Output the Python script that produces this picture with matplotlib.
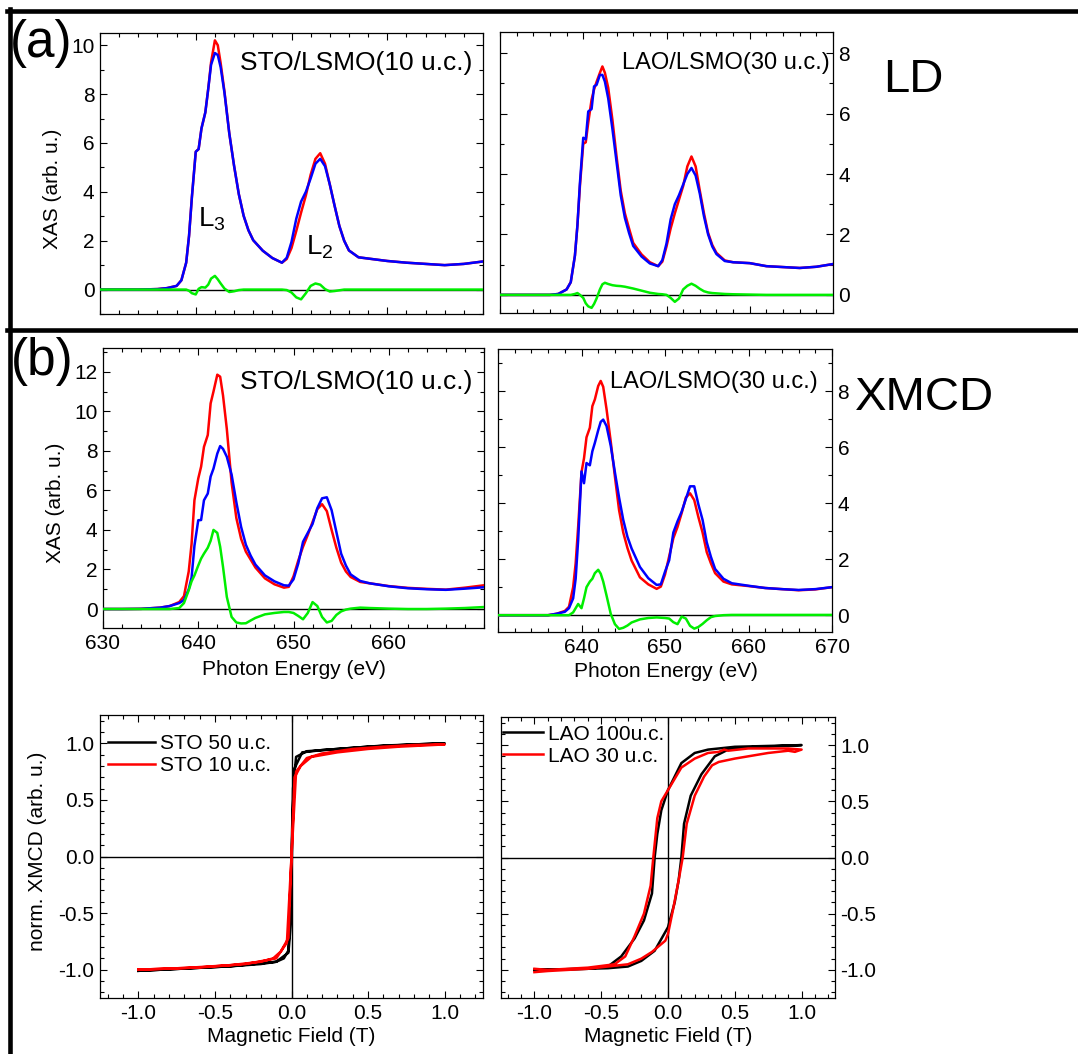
import matplotlib
matplotlib.use("Agg")
import matplotlib.pyplot as plt
from matplotlib.ticker import MultipleLocator
from matplotlib.lines import Line2D

plt.rcParams['font.family'] = ['Liberation Sans', 'DejaVu Sans']
plt.rcParams['mathtext.default'] = 'regular'

# energy grid (eV) shared by all XAS panels
energy = [630, 632, 634, 636, 637, 638, 638.5, 639, 639.3, 639.6, 640, 640.3, 640.6, 641,
          641.3, 641.6, 642, 642.3, 642.6, 643, 643.5, 644, 644.5, 645, 645.5, 646, 647,
          648, 649, 649.5, 650, 650.5, 651, 651.5, 652, 652.5, 653, 653.5, 654, 654.5,
          655, 655.5, 656, 657, 658, 660, 662, 664, 666, 668, 670]

# (a) LD, STO/LSMO(10 u.c.)
ld_sto_red = [0, 0, 0, 0.02, 0.06, 0.15, 0.38, 1.1, 2.2, 3.8, 5.64, 5.75, 6.6, 7.25,
              8.2, 9.3, 10.2, 10.0, 9.27, 8.1, 6.4, 5.07, 3.9, 3.02, 2.43, 2.02, 1.59,
              1.29, 1.1, 1.25, 1.7, 2.4, 3.15, 3.85, 4.7, 5.35, 5.58, 5.15, 4.3, 3.43,
              2.6, 2.0, 1.6, 1.32, 1.27, 1.17, 1.1, 1.05, 1.0, 1.05, 1.15]
ld_sto_blue = [0, 0, 0, 0.02, 0.06, 0.15, 0.38, 1.1, 2.2, 3.8, 5.64, 5.75, 6.6, 7.25,
               8.2, 9.2, 9.68, 9.6, 9.1, 8.05, 6.4, 5.07, 3.9, 3.02, 2.43, 2.02, 1.59,
               1.29, 1.1, 1.3, 1.95, 2.9, 3.6, 4.0, 4.55, 5.15, 5.35, 5.05, 4.3, 3.43,
               2.6, 2.0, 1.6, 1.32, 1.27, 1.17, 1.1, 1.05, 1.0, 1.05, 1.15]
ld_sto_diff = [0, 0, 0, 0, 0, 0, 0, 0, -0.05, -0.15, -0.2, 0.03, 0.1, 0.08,
               0.2, 0.45, 0.56, 0.42, 0.25, 0.04, -0.1, -0.07, -0.02, 0, 0, 0, 0,
               0, 0, -0.02, -0.12, -0.32, -0.4, -0.15, 0.15, 0.25, 0.2, 0.02, -0.08, -0.06,
               -0.03, 0, 0, 0, 0, 0, 0, 0, 0, 0, 0]

# (a) LD, LAO/LSMO(30 u.c.)
ld_lao_red = [0, 0, 0, 0, 0.03, 0.18, 0.42, 1.3, 2.3, 3.6, 5.0, 5.05, 5.7, 6.46,
              6.8, 7.05, 7.35, 7.56, 7.35, 6.85, 5.8, 4.58, 3.45, 2.7, 2.2, 1.72, 1.34,
              1.08, 0.95, 1.1, 1.6, 2.2, 2.7, 3.15, 3.6, 4.25, 4.58, 4.25, 3.45, 2.7,
              2.05, 1.65, 1.39, 1.14, 1.08, 1.05, 0.95, 0.92, 0.89, 0.93, 1.02]
ld_lao_blue = [0, 0, 0, 0, 0.03, 0.18, 0.42, 1.3, 2.3, 3.7, 5.2, 5.15, 6.07, 6.15,
               6.9, 6.95, 7.28, 7.28, 7.06, 6.5, 5.5, 4.4, 3.3, 2.55, 2.05, 1.62, 1.27,
               1.04, 0.95, 1.15, 1.7, 2.5, 3.0, 3.3, 3.65, 4.0, 4.2, 3.95, 3.35, 2.6,
               2.0, 1.6, 1.35, 1.12, 1.08, 1.05, 0.95, 0.92, 0.89, 0.93, 1.02]
ld_lao_diff = [0, 0, 0, 0, 0, 0, 0, 0.03, 0.06, 0, -0.1, -0.28, -0.38, -0.43,
               -0.3, -0.12, 0.18, 0.35, 0.4, 0.36, 0.32, 0.3, 0.29, 0.27, 0.24, 0.21, 0.14,
               0.07, 0.03, 0.02, 0, -0.1, -0.23, -0.12, 0.18, 0.3, 0.37, 0.3, 0.2, 0.12,
               0.08, 0.06, 0.05, 0.03, 0.02, 0.01, 0, 0, 0, 0, 0]

# (b) XMCD, STO/LSMO(10 u.c.)
mcd_sto_red = [0, 0, 0.01, 0.07, 0.15, 0.35, 0.65, 1.9, 3.3, 5.5, 6.6, 7.2, 8.2, 8.8,
               10.4, 11.0, 11.85, 11.75, 10.8, 9.1, 6.4, 4.6, 3.55, 2.9, 2.5, 2.1, 1.55,
               1.25, 1.08, 1.12, 1.65, 2.45, 3.15, 3.75, 4.4, 5.05, 5.3, 4.95, 4.0, 3.1,
               2.35, 1.9, 1.62, 1.37, 1.3, 1.16, 1.07, 1.02, 0.98, 1.08, 1.2]
mcd_sto_blue = [0, 0, 0.01, 0.07, 0.15, 0.3, 0.45, 1.0, 1.6, 3.2, 4.49, 4.5, 5.5, 5.84,
                6.7, 7.1, 7.86, 8.24, 8.1, 7.7, 6.8, 5.4, 4.15, 3.25, 2.7, 2.25, 1.7,
                1.4, 1.2, 1.18, 1.5, 2.3, 3.4, 3.85, 4.3, 5.1, 5.6, 5.65, 5.0, 3.9,
                2.8, 2.2, 1.75, 1.42, 1.3, 1.15, 1.05, 1.0, 0.97, 1.03, 1.1]
mcd_sto_diff = [0, 0, 0, 0, 0, 0.05, 0.3, 0.95, 1.4, 1.7, 2.2, 2.55, 2.8, 3.1,
                3.45, 4.0, 3.85, 3.15, 2.13, 0.61, -0.4, -0.68, -0.73, -0.72, -0.58, -0.45, -0.27,
                -0.2, -0.15, -0.15, -0.2, -0.35, -0.52, -0.2, 0.35, 0.15, -0.4, -0.68, -0.6, -0.3,
                -0.12, -0.03, 0.02, 0.07, 0.05, 0.02, 0, 0, 0.02, 0.05, 0.1]

# (b) XMCD, LAO/LSMO(30 u.c.)
mcd_lao_red = [0, 0, 0, 0, 0.05, 0.15, 0.3, 1.0, 1.85, 3.16, 5.1, 5.6, 6.35, 6.69,
               7.46, 7.7, 8.18, 8.36, 8.15, 7.35, 6.2, 4.95, 3.75, 2.95, 2.4, 1.95, 1.35,
               1.1, 0.94, 1.02, 1.45, 2.1, 2.75, 3.15, 3.65, 4.2, 4.35, 4.11, 3.5, 2.95,
               2.25, 1.85, 1.5, 1.2, 1.1, 1.04, 0.97, 0.93, 0.89, 0.92, 1.0]
mcd_lao_blue = [0, 0, 0, 0, 0.05, 0.12, 0.25, 0.6, 1.3, 2.68, 5.13, 4.71, 5.43, 5.35,
                5.85, 6.15, 6.6, 6.9, 6.98, 6.75, 6.05, 5.1, 4.2, 3.4, 2.8, 2.38, 1.72,
                1.32, 1.08, 1.1, 1.55, 1.96, 2.95, 3.35, 3.7, 4.15, 4.6, 4.6, 3.95, 3.4,
                2.6, 2.08, 1.65, 1.3, 1.14, 1.05, 0.97, 0.93, 0.9, 0.93, 1.0]
mcd_lao_diff = [0, 0, 0, 0, 0, 0, 0, 0.1, 0.25, 0.4, 0.25, 0.6, 1.0, 1.2,
                1.3, 1.5, 1.62, 1.48, 1.2, 0.7, 0.05, -0.32, -0.49, -0.45, -0.37, -0.26, -0.15,
                -0.1, -0.08, -0.09, -0.1, -0.12, -0.25, -0.32, -0.05, -0.12, -0.38, -0.48, -0.42, -0.31,
                -0.18, -0.07, -0.03, 0, 0.01, 0.01, 0.01, 0.01, 0.01, 0.01, 0.01]

# hysteresis loops (field in T, normalized XMCD)
h_sto50 = [-1.0, -0.7, -0.4, -0.2, -0.1, -0.05, -0.02, -0.005, 0.005, 0.02, 0.07, 0.2, 0.5, 0.8, 1.0,
           0.6, 0.3, 0.1, 0.03, 0.01, -0.005, -0.02, -0.1, -0.4, -0.7, -1.0]
m_sto50 = [-1.01, -0.99, -0.97, -0.95, -0.93, -0.9, -0.83, -0.3, 0.3, 0.78, 0.92, 0.94, 0.97, 0.99, 1.0,
           0.98, 0.95, 0.93, 0.88, 0.6, -0.6, -0.85, -0.93, -0.97, -0.99, -1.01]
h_sto10 = [-1.0, -0.7, -0.4, -0.2, -0.12, -0.07, -0.02, 0.0, 0.02, 0.06, 0.13, 0.3, 0.5, 0.7, 1.0,
           0.8, 0.6, 0.4, 0.2, 0.1, 0.03, 0.0, -0.03, -0.1, -0.3, -0.6, -1.0]
m_sto10 = [-1.0, -0.985, -0.96, -0.93, -0.9, -0.84, -0.72, 0.0, 0.7, 0.8, 0.88, 0.92, 0.95, 0.97, 0.99,
           0.985, 0.97, 0.95, 0.91, 0.87, 0.75, 0.0, -0.76, -0.9, -0.95, -0.98, -1.0]
h_lao100 = [-1.0, -0.6, -0.45, -0.3, -0.2, -0.1, 0.0, 0.05, 0.08, 0.1, 0.12, 0.17, 0.25, 0.35, 0.45, 0.6, 1.0,
            0.5, 0.3, 0.2, 0.1, 0.0, -0.05, -0.08, -0.1, -0.12, -0.18, -0.25, -0.35, -0.45, -0.6, -1.0]
m_lao100 = [-1.0, -0.99, -0.985, -0.97, -0.92, -0.83, -0.62, -0.4, -0.2, 0.0, 0.3, 0.55, 0.74, 0.9, 0.96, 0.98, 1.0,
            0.985, 0.96, 0.93, 0.84, 0.6, 0.42, 0.21, 0.0, -0.32, -0.56, -0.72, -0.88, -0.97, -0.99, -1.0]
h_lao30 = [-1.0, -0.9, -0.6, -0.45, -0.3, -0.2, -0.12, -0.05, -0.02, 0.0, 0.04, 0.08, 0.11, 0.14, 0.2,
           0.27, 0.33, 0.38, 0.42, 0.5, 0.6, 0.75, 0.9, 0.95, 1.0,
           0.9, 0.6, 0.45, 0.42, 0.38, 0.3, 0.2, 0.1, 0.0, -0.05, -0.08, -0.11, -0.13, -0.18,
           -0.25, -0.32, -0.4, -0.6, -0.9, -1.0]
m_lao30 = [-1.02, -1.01, -0.99, -0.97, -0.95, -0.9, -0.84, -0.77, -0.74, -0.68, -0.45, -0.2, 0.0, 0.3, 0.55,
           0.72, 0.82, 0.85, 0.86, 0.88, 0.9, 0.93, 0.95, 0.94, 0.96,
           0.97, 0.97, 0.95, 0.96, 0.94, 0.93, 0.88, 0.8, 0.6, 0.5, 0.35, 0.0, -0.25, -0.5,
           -0.7, -0.88, -0.95, -0.98, -1.0, -0.99]

W, H = 1078, 1054
fig = plt.figure(figsize=(W / 100, H / 100), dpi=100)


def px_axes(x0, y0, x1, y1):
    return fig.add_axes([x0 / W, 1 - y1 / H, (x1 - x0) / W, (y1 - y0) / H])


def style(ax):
    ax.tick_params(which='both', direction='in', top=True, right=True, left=True, bottom=True,
                   labelsize=15, width=0.8, pad=4)
    ax.tick_params(which='major', length=5)
    ax.tick_params(which='minor', length=2.8)
    for s in ax.spines.values():
        s.set_linewidth(0.9)


def xas(ax, red, blue, diff, ylim, label, label_xy, fs):
    ax.axhline(0, color='black', lw=1.0, zorder=1)
    ax.plot(energy, red, color='#ff0000', lw=1.8, zorder=3)
    ax.plot(energy, blue, color='#0000ff', lw=1.8, zorder=4)
    ax.plot(energy, diff, color='#00ee00', lw=1.8, zorder=5)
    ax.set_xlim(630, 670)
    ax.set_ylim(*ylim)
    ax.xaxis.set_minor_locator(MultipleLocator(2))
    ax.yaxis.set_major_locator(MultipleLocator(2))
    ax.yaxis.set_minor_locator(MultipleLocator(1))
    style(ax)
    ax.text(label_xy[0], label_xy[1], label, transform=ax.transAxes, ha='right', va='center',
            fontsize=fs)


# (a) LD
ax1 = px_axes(100, 33, 483, 314)
xas(ax1, ld_sto_red, ld_sto_blue, ld_sto_diff, (-1.0, 10.5), 'STO/LSMO(10 u.c.)', (0.971, 0.893), 19)
ax1.set_xticks([640, 650, 660])
ax1.tick_params(labelbottom=False)
ax1.set_ylabel('XAS (arb. u.)', fontsize=15)
ax1.yaxis.set_label_coords(-0.099, 0.445)
ax1.text(640.2, 2.6, 'L$_3$', fontsize=20, ha='left', va='baseline')
ax1.text(651.5, 1.45, 'L$_2$', fontsize=20, ha='left', va='baseline')

ax2 = px_axes(500, 32, 833, 313)
xas(ax2, ld_lao_red, ld_lao_blue, ld_lao_diff, (-0.6, 8.7), 'LAO/LSMO(30 u.c.)', (0.99, 0.891), 17)
ax2.set_xticks([640, 650, 660])
ax2.tick_params(labelbottom=False, labelleft=False, labelright=True)

# (b) XMCD
ax3 = px_axes(103, 348, 484, 628)
xas(ax3, mcd_sto_red, mcd_sto_blue, mcd_sto_diff, (-0.96, 13.2), 'STO/LSMO(10 u.c.)', (0.9685, 0.877), 19)
ax3.set_xticks([630, 640, 650, 660])
ax3.set_ylabel('XAS (arb. u.)', fontsize=15)
ax3.yaxis.set_label_coords(-0.099, 0.446)
ax3.set_xlabel('Photon Energy (eV)', fontsize=15, va='top')
ax3.xaxis.set_label_coords(0.5, -0.114)

ax4 = px_axes(498, 349, 832, 632)
xas(ax4, mcd_lao_red, mcd_lao_blue, mcd_lao_diff, (-0.6, 9.5), 'LAO/LSMO(30 u.c.)', (0.958, 0.882), 17)
ax4.set_xticks([640, 650, 660, 670])
ax4.tick_params(labelleft=False, labelright=True)
ax4.set_xlabel('Photon Energy (eV)', fontsize=15, va='top')
ax4.xaxis.set_label_coords(0.502, -0.106)


def loop(ax, h1, m1, l1, h2, m2, l2, hl, anchor):
    ax.axhline(0, color='black', lw=1.0, zorder=1)
    ax.axvline(0, color='black', lw=1.0, zorder=1)
    ax.plot(h1, m1, color='black', lw=1.8, label=l1, zorder=3)
    ax.plot(h2, m2, color='#ff0000', lw=1.8, label=l2, zorder=4)
    ax.set_xlim(-1.25, 1.25)
    ax.set_ylim(-1.25, 1.25)
    ax.xaxis.set_major_locator(MultipleLocator(0.5))
    ax.xaxis.set_minor_locator(MultipleLocator(0.1))
    ax.yaxis.set_major_locator(MultipleLocator(0.5))
    ax.yaxis.set_minor_locator(MultipleLocator(0.1))
    ax.xaxis.set_major_formatter(plt.FuncFormatter(lambda v, p: f'{v:.1f}'))
    ax.yaxis.set_major_formatter(plt.FuncFormatter(lambda v, p: f'{v:.1f}'))
    style(ax)
    ax.legend(loc='center left', bbox_to_anchor=anchor, frameon=False, fontsize=15,
              handlelength=hl, handletextpad=0.25, labelspacing=0.15, borderpad=0,
              borderaxespad=0)
    ax.set_xlabel('Magnetic Field (T)', fontsize=15, va='top')
    ax.xaxis.set_label_coords(0.5, -0.102)


ax5 = px_axes(100, 715, 483, 998)
loop(ax5, h_sto50, m_sto50, 'STO 50 u.c.', h_sto10, m_sto10, 'STO 10 u.c.', 2.25, (0.021, 0.859))
ax5.set_ylabel('norm. XMCD (arb. u.)', fontsize=15)
ax5.yaxis.set_label_coords(-0.138, 0.519)

ax6 = px_axes(501, 717, 835, 998)
loop(ax6, h_lao100, m_lao100, 'LAO 100u.c.', h_lao30, m_lao30, 'LAO 30 u.c.', 1.9, (0.006, 0.9))
ax6.tick_params(labelleft=False, labelright=True)

# panel labels and frames
fig.text(10 / W, 1 - 43 / H, '(a)', fontsize=37, ha='left', va='center')
fig.text(11 / W, 1 - 362 / H, '(b)', fontsize=37, ha='left', va='center')
fig.text(913 / W, 1 - 80 / H, 'LD', fontsize=34, ha='center', va='center')
fig.text(925 / W, 1 - 398 / H, 'XMCD', fontsize=34, ha='center', va='center')

for xs, ys in [((7 / W, 1.0), (1 - 11 / H, 1 - 11 / H)),
               ((9.5 / W, 9.5 / W), (1 - 9 / H, 0.0)),
               ((7 / W, 1.0), (1 - 329.5 / H, 1 - 329.5 / H))]:
    fig.add_artist(Line2D(xs, ys, color='black', lw=3.3, transform=fig.transFigure))

fig.savefig('out.png', dpi=100)
